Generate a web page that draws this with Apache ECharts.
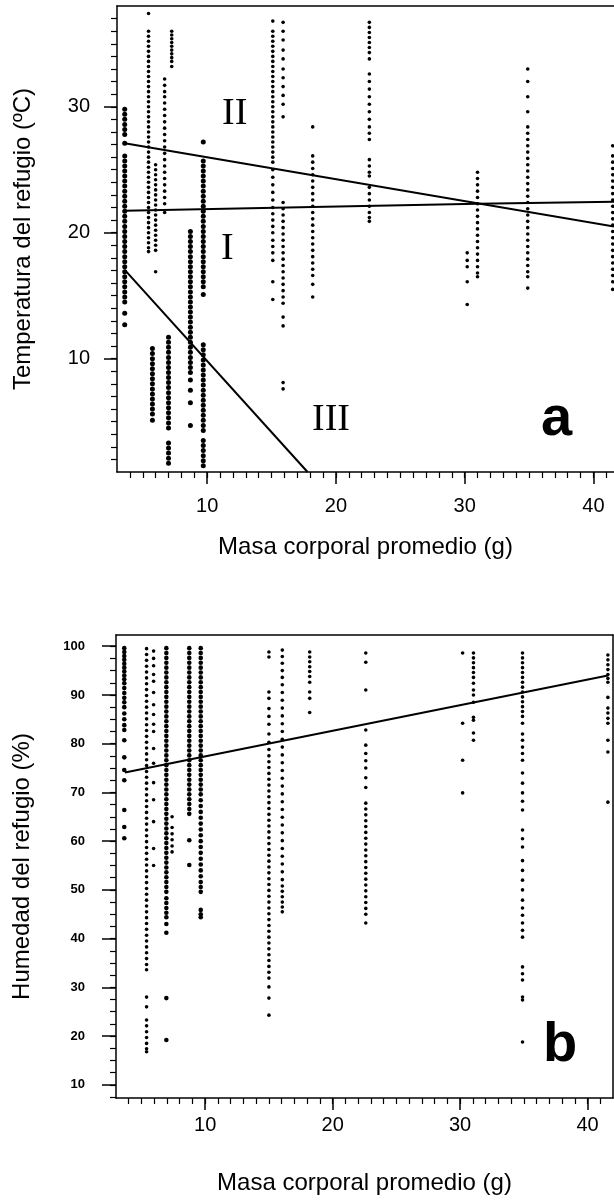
<!DOCTYPE html>
<html><head><meta charset="utf-8">
<script src="https://cdn.jsdelivr.net/npm/echarts@6/dist/echarts.min.js"></script>
<style>html,body{margin:0;padding:0;background:#fff}#c{width:614px;height:1200px}</style>
</head><body><div id="c"></div>
<script>
// ---------- Panel a: Temperatura del refugio vs masa corporal ----------
const tempMajorX = [10, 20, 30, 40];
const tempMajorY = [10, 20, 30];
// columns drawn with large dots
const tempLargeX = [3.6, 5.75, 7.0, 8.7, 9.7];
const tempLargeY = [
  [29.8, 29.4, 29.0, 28.6, 28.2, 27.8, 27.1, 26.1, 25.7, 25.3, 24.9, 24.5, 24.1, 23.7, 23.3, 22.9, 22.5, 22.1, 21.7, 21.3, 20.9, 20.5, 20.1, 19.7, 19.3, 18.9, 18.5, 18.1, 17.7, 17.3, 16.9, 16.5, 16.1, 15.7, 15.3, 14.9, 14.5, 13.6, 12.7],
  [10.8, 10.4, 10.0, 9.6, 9.2, 8.8, 8.4, 8.0, 7.6, 7.2, 6.8, 6.4, 6.0, 5.6, 5.1],
  [11.7, 11.3, 10.9, 10.5, 10.1, 9.7, 9.3, 8.9, 8.5, 8.1, 7.7, 7.3, 6.9, 6.5, 6.1, 5.7, 5.3, 4.9, 4.5, 3.3, 2.9, 2.5, 2.1, 1.7],
  [20.1, 19.7, 19.3, 18.9, 18.5, 18.1, 17.7, 17.3, 16.9, 16.5, 16.1, 15.7, 15.3, 14.9, 14.5, 14.1, 13.7, 13.3, 12.9, 12.5, 12.1, 11.7, 11.3, 10.9, 10.5, 10.1, 9.7, 9.3, 8.9, 8.3, 7.5, 6.5, 4.7],
  [27.2, 25.7, 25.3, 24.9, 24.5, 24.1, 23.7, 23.3, 22.9, 22.5, 22.1, 21.7, 21.3, 20.9, 20.5, 20.1, 19.7, 19.3, 18.9, 18.5, 18.1, 17.7, 17.3, 16.9, 16.5, 16.1, 15.7, 15.1,
   11.1, 10.7, 10.3, 9.9, 9.5, 9.1, 8.7, 8.3, 7.9, 7.5, 7.1, 6.7, 6.3, 5.9, 5.5, 5.1, 4.7, 4.3, 3.5, 3.1, 2.7, 2.3, 1.9, 1.5]
];
// columns drawn with small dots
const tempSmallX = [5.45, 6.0, 6.7, 7.25, 15.1, 15.9, 18.2, 22.6, 30.2, 31.0, 34.9, 41.5];
const tempSmallY = [
  [37.4, 36.0, 35.6, 35.2, 34.8, 34.4, 34.0, 33.6, 33.2, 32.8, 32.4, 32.0, 31.6, 31.2, 30.8, 30.4, 30.0, 29.6, 29.2, 28.8, 28.4, 28.0, 27.6, 27.2, 26.8, 26.4, 26.0, 25.6, 25.2, 24.8, 24.4, 24.0, 23.6, 23.2, 22.8, 22.4, 22.0, 21.6, 21.2, 20.8, 20.4, 20.0, 19.6, 19.2, 18.8, 18.5],
  [25.4, 25.0, 24.6, 24.2, 23.8, 23.4, 23.0, 22.6, 22.2, 21.8, 21.4, 21.0, 20.6, 20.2, 19.8, 19.4, 19.0, 18.6, 16.9],
  [32.2, 31.7, 31.2, 30.8, 30.3, 29.8, 29.3, 28.8, 28.3, 27.8, 27.3, 26.8, 26.3, 25.8, 25.3, 24.8, 24.3, 23.8, 23.3, 22.8, 22.3, 21.6],
  [36.0, 35.7, 35.4, 35.1, 34.8, 34.5, 34.2, 33.9, 33.6, 33.2],
  [36.8, 36.0, 35.6, 35.2, 34.8, 34.4, 34.0, 33.6, 33.2, 32.8, 32.4, 32.0, 31.6, 31.2, 30.8, 30.4, 30.0, 29.6, 29.2, 28.8, 28.4, 28.0, 27.6, 27.2, 26.8, 26.4, 26.0, 25.6, 25.0, 24.4, 23.8, 23.2, 22.6, 22.0, 21.5, 21.0, 20.5, 20.0, 19.4, 18.9, 18.4, 17.8, 16.1, 14.7],
  [36.7, 36.0, 35.3, 34.5, 33.8, 33.0, 32.3, 31.6, 30.9, 30.2, 29.2, 22.4, 21.9, 21.4, 20.9, 20.4, 19.9, 19.4, 18.9, 18.4, 17.9, 17.4, 16.9, 16.4, 15.9, 15.4, 14.9, 14.4, 13.3, 12.6, 8.1, 7.6],
  [28.4, 26.1, 25.6, 25.1, 24.6, 24.1, 23.6, 23.1, 22.6, 22.1, 21.6, 21.1, 20.6, 20.1, 19.6, 19.1, 18.6, 18.1, 17.6, 17.1, 16.6, 15.9, 14.9],
  [36.7, 36.3, 35.9, 35.5, 35.1, 34.7, 34.3, 33.8, 32.6, 32.0, 31.4, 30.8, 30.2, 29.6, 29.0, 28.4, 27.9, 27.4, 25.8, 25.3, 24.8, 24.5, 23.6, 23.1, 22.6, 22.1, 21.6, 21.2, 20.9],
  [18.4, 17.8, 17.3, 16.1, 14.3],
  [24.8, 24.3, 23.8, 23.3, 22.8, 22.3, 21.8, 21.3, 20.8, 20.3, 19.8, 19.3, 18.8, 18.3, 17.8, 17.3, 16.8, 16.5],
  [33.0, 32.0, 30.8, 29.6, 28.4, 27.9, 27.4, 26.9, 26.4, 25.9, 25.4, 24.9, 24.4, 23.9, 23.4, 22.9, 22.4, 21.9, 21.4, 20.9, 20.4, 19.9, 19.4, 18.9, 18.4, 17.9, 17.4, 16.9, 16.5, 15.6],
  [26.9, 26.1, 25.6, 25.1, 24.6, 24.1, 23.6, 23.1, 22.6, 22.1, 21.6, 21.1, 20.6, 20.1, 19.6, 19.1, 18.6, 18.1, 17.6, 17.1, 16.6, 16.1, 15.5]
];
// regression lines
const lineIX = [3.6, 18.2, 31.0, 41.6];
const lineIY = [21.75, 22.05, 22.3, 22.45];
const lineIIX = [3.6, 41.6];
const lineIIY = [27.1, 20.5];
const lineIIIX = [3.6, 17.8];
const lineIIIY = [17.05, 1.0];

// ---------- Panel b: Humedad del refugio vs masa corporal ----------
const humMajorX = [10, 20, 30, 40];
const humMajorY = [10, 20, 30, 40, 50, 60, 70, 80, 90, 100];
const humLargeX = [3.65, 6.95, 8.75, 9.65];
const humLargeY = [
  [99.6, 98.8, 98.0, 97.2, 96.4, 95.6, 94.8, 94.0, 93.2, 92.4, 91.4, 90.4, 89.4, 88.5, 87.5, 86.2, 85.0, 83.8, 82.8, 80.7, 77.2, 74.6, 72.5, 66.4, 62.9, 60.6],
  [99.6, 98.6, 97.6, 96.6, 95.6, 94.6, 93.6, 92.6, 91.6, 90.6, 89.6, 88.6, 87.6, 86.6, 85.6, 84.6, 83.6, 82.6, 81.6, 80.6, 79.6, 78.6, 77.6, 76.6, 75.6, 74.6, 73.6, 72.6, 71.6, 70.6, 69.6, 68.6, 67.6, 66.6, 65.6, 64.6, 63.6, 62.6, 61.6, 60.6, 59.6, 58.6, 57.6, 56.6, 55.6, 54.6, 53.6, 52.6, 51.6, 50.6, 49.6, 48.3, 47.3, 46.3, 45.3, 44.4, 43.0, 41.2, 27.8, 19.2],
  [99.6, 98.6, 97.6, 96.6, 95.6, 94.6, 93.6, 92.6, 91.6, 90.6, 89.6, 88.6, 87.6, 86.6, 85.6, 84.6, 83.6, 82.6, 81.6, 80.6, 79.6, 78.6, 77.6, 76.6, 75.6, 74.6, 73.6, 72.6, 71.6, 70.6, 69.6, 68.6, 67.6, 66.6, 65.6, 60.2, 55.1],
  [99.6, 98.6, 97.6, 96.6, 95.6, 94.6, 93.6, 92.6, 91.6, 90.6, 89.6, 88.6, 87.6, 86.6, 85.6, 84.6, 83.6, 82.6, 81.6, 80.6, 79.6, 78.6, 77.6, 76.6, 75.6, 74.6, 73.6, 72.6, 71.6, 70.6, 69.6, 68.4, 67.2, 66.0, 64.8, 63.6, 62.4, 61.2, 60.0, 58.8, 57.6, 56.4, 55.2, 54.0, 52.8, 51.6, 50.6, 49.6, 45.9, 45.0, 44.4]
];
const humSmallX = [5.4, 5.95, 7.4, 15.0, 16.05, 18.2, 22.6, 30.2, 31.05, 34.9, 41.6];
const humSmallY = [
  [99.5, 98.3, 97.1, 95.9, 94.7, 93.5, 92.3, 91.1, 89.9, 88.7, 87.5, 86.3, 85.1, 83.9, 82.7, 81.5, 80.3, 79.1, 77.9, 76.7, 75.5, 74.3, 73.1, 71.9, 70.7, 69.5, 68.3, 67.1, 65.9, 64.7, 63.5, 62.3, 61.1, 59.9, 58.7, 57.5, 56.3, 55.1, 53.9, 52.7, 51.5, 50.3, 49.1, 47.9, 46.7, 45.5, 44.3, 43.1, 41.9, 40.7, 39.5, 38.3, 37.1, 35.9, 34.7, 33.6, 28.0, 26.0, 23.3, 22.1, 20.9, 19.7, 18.5, 17.4, 16.8],
  [99.0, 97.5, 96.0, 94.2, 92.8, 90.5, 88.0, 86.0, 84.0, 82.5, 79.0, 76.0, 72.0, 68.5, 64.0, 58.5, 55.0],
  [65.0, 62.8, 61.5, 60.3, 59.0, 57.8],
  [98.8, 97.8, 90.6, 89.3, 87.2, 85.6, 84.0, 82.0, 80.3, 78.8, 77.5, 76.3, 75.1, 73.9, 72.7, 71.5, 70.3, 69.1, 67.9, 66.7, 65.5, 64.3, 63.1, 61.9, 60.7, 59.5, 58.3, 57.1, 55.9, 54.7, 53.5, 52.3, 51.1, 49.9, 48.7, 47.5, 46.3, 45.1, 43.9, 42.7, 41.5, 40.3, 39.1, 37.9, 36.7, 35.5, 34.3, 33.1, 31.9, 30.1, 27.8, 24.3],
  [99.2, 97.9, 96.5, 95.0, 93.6, 92.1, 90.5, 88.9, 87.3, 85.7, 84.1, 82.5, 80.9, 79.3, 77.7, 76.1, 74.5, 72.9, 71.3, 69.7, 68.1, 66.5, 64.9, 63.3, 61.7, 60.1, 58.5, 56.9, 55.3, 53.7, 52.1, 50.8, 49.7, 48.6, 47.5, 46.5, 45.5],
  [98.8, 97.8, 96.8, 95.8, 94.8, 93.8, 92.6, 90.6, 89.3, 86.4],
  [98.6, 96.7, 91.0, 82.8, 79.7, 78.0, 76.5, 75.0, 73.0, 71.0, 67.8, 66.6, 65.4, 64.2, 63.0, 61.8, 60.6, 59.4, 58.2, 57.0, 55.8, 54.6, 53.4, 52.2, 51.0, 49.8, 48.6, 47.4, 46.2, 45.0, 43.2],
  [98.6, 84.2, 76.6, 69.9],
  [98.6, 97.6, 96.6, 95.6, 94.6, 93.6, 92.4, 91.0, 90.0, 88.5, 85.4, 84.8, 82.2, 80.7],
  [98.6, 97.6, 96.6, 95.6, 94.6, 93.6, 92.6, 91.6, 90.6, 89.6, 88.6, 87.6, 86.6, 85.6, 84.2, 82.0, 80.7, 79.3, 78.0, 76.6, 74.0, 71.9, 69.9, 68.2, 66.4, 62.3, 60.5, 58.8, 56.0, 54.0, 52.0, 50.0, 47.9, 46.3, 44.8, 43.2, 41.7, 40.3, 34.2, 32.8, 31.5, 28.0, 27.4, 18.8],
  [98.2, 97.2, 96.2, 95.2, 94.2, 93.4, 92.6, 89.5, 87.3, 86.3, 85.2, 84.2, 80.7, 78.3, 68.0]
];
const humLineX = [3.7, 41.6];
const humLineY = [74.1, 94.0];

// ---------- build ----------
function cols(xs, ys) { const out = []; xs.forEach((x, i) => ys[i].forEach(y => out.push([x, y]))); return out; }
function pairs(xs, ys) { return xs.map((x, i) => [x, ys[i]]); }
function range(a, b, s) { const r = []; for (let v = a; v <= b + 1e-9; v += s) r.push(+v.toFixed(2)); return r; }

const FONT = 'Liberation Sans';
const black = '#000';
const axisLine = { show: true, onZero: false, lineStyle: { color: black, width: 1.5 } };
const noLine = { show: false, onZero: false };
const dot = { color: black, opacity: 1 };

const chart = echarts.init(document.getElementById('c'), null, { renderer: 'canvas' });
const aX = { min: 3, max: 41.6 }, aY = { min: 1, max: 38 };
const bX = { min: 3, max: 42 }, bY = { min: 7.3, max: 102.3 };

const option = {
  backgroundColor: '#fff',
  animation: false,
  grid: [
    { left: 117, top: 6, width: 497, height: 466, containLabel: false, outerBoundsMode: 'none' },
    { left: 116, top: 635, width: 497, height: 463, containLabel: false, outerBoundsMode: 'none' }
  ],
  xAxis: [
    { gridIndex: 0, type: 'value', position: 'bottom', ...aX, axisLine,
      axisTick: { show: true, customValues: tempMajorX, length: 12, lineStyle: { color: black, width: 1.5 } },
      axisLabel: { show: true, customValues: tempMajorX, color: black, fontFamily: FONT, fontSize: 20, margin: 24 },
      splitLine: { show: false },
      name: 'Masa corporal promedio (g)', nameLocation: 'middle', nameGap: 63,
      nameTextStyle: { color: black, fontFamily: FONT, fontSize: 24 } },
    { gridIndex: 0, type: 'value', position: 'bottom', ...aX, axisLine: noLine,
      axisTick: { show: true, customValues: range(4, 41, 1), length: 6, lineStyle: { color: black, width: 1.2 } },
      axisLabel: { show: false }, splitLine: { show: false } },
    { gridIndex: 0, type: 'value', position: 'top', ...aX, axisLine,
      axisTick: { show: false }, axisLabel: { show: false }, splitLine: { show: false } },
    { gridIndex: 1, type: 'value', position: 'bottom', ...bX, axisLine,
      axisTick: { show: true, customValues: humMajorX, length: 12, lineStyle: { color: black, width: 1.5 } },
      axisLabel: { show: true, customValues: humMajorX, color: black, fontFamily: FONT, fontSize: 20, margin: 17 },
      splitLine: { show: false },
      name: 'Masa corporal promedio (g)', nameLocation: 'middle', nameGap: 73,
      nameTextStyle: { color: black, fontFamily: FONT, fontSize: 24 } },
    { gridIndex: 1, type: 'value', position: 'bottom', ...bX, axisLine: noLine,
      axisTick: { show: true, customValues: range(4, 41, 1), length: 6, lineStyle: { color: black, width: 1.2 } },
      axisLabel: { show: false }, splitLine: { show: false } },
    { gridIndex: 1, type: 'value', position: 'top', ...bX, axisLine,
      axisTick: { show: false }, axisLabel: { show: false }, splitLine: { show: false } }
  ],
  yAxis: [
    { gridIndex: 0, type: 'value', position: 'left', ...aY, axisLine,
      axisTick: { show: true, customValues: tempMajorY, length: 13, lineStyle: { color: black, width: 1.5 } },
      axisLabel: { show: true, customValues: tempMajorY, color: black, fontFamily: FONT, fontSize: 20, margin: 27 },
      splitLine: { show: false },
      name: 'Temperatura del refugio (ºC)', nameLocation: 'middle', nameGap: 82,
      nameTextStyle: { color: black, fontFamily: FONT, fontSize: 24 } },
    { gridIndex: 0, type: 'value', position: 'left', ...aY, axisLine: noLine,
      axisTick: { show: true, customValues: range(2, 37, 1), length: 6, lineStyle: { color: black, width: 1.2 } },
      axisLabel: { show: false }, splitLine: { show: false } },
    { gridIndex: 1, type: 'value', position: 'left', ...bY, axisLine,
      axisTick: { show: true, customValues: humMajorY, length: 14, lineStyle: { color: black, width: 1.5 } },
      axisLabel: { show: true, customValues: humMajorY, color: black, fontFamily: FONT, fontSize: 13, fontWeight: 'bold', margin: 31 },
      splitLine: { show: false },
      name: 'Humedad del refugio (%)', nameLocation: 'middle', nameGap: 82,
      nameTextStyle: { color: black, fontFamily: FONT, fontSize: 24 } },
    { gridIndex: 1, type: 'value', position: 'left', ...bY, axisLine: noLine,
      axisTick: { show: true, customValues: range(7.5, 102.5, 2.5).filter(v => v <= 102.3), length: 6, lineStyle: { color: black, width: 1.2 } },
      axisLabel: { show: false }, splitLine: { show: false } },
    { gridIndex: 1, type: 'value', position: 'right', ...bY, axisLine,
      axisTick: { show: false }, axisLabel: { show: false }, splitLine: { show: false } }
  ],
  series: [
    { type: 'scatter', xAxisIndex: 0, yAxisIndex: 0, data: cols(tempLargeX, tempLargeY), symbolSize: 5, itemStyle: dot },
    { type: 'scatter', xAxisIndex: 0, yAxisIndex: 0, data: cols(tempSmallX, tempSmallY), symbolSize: 3.6, itemStyle: dot },
    { type: 'line', xAxisIndex: 0, yAxisIndex: 0, data: pairs(lineIX, lineIY), symbol: 'none', lineStyle: { color: black, width: 2 }, z: 5 },
    { type: 'line', xAxisIndex: 0, yAxisIndex: 0, data: pairs(lineIIX, lineIIY), symbol: 'none', lineStyle: { color: black, width: 2 }, z: 5 },
    { type: 'line', xAxisIndex: 0, yAxisIndex: 0, data: pairs(lineIIIX, lineIIIY), symbol: 'none', lineStyle: { color: black, width: 2 }, z: 5 },
    { type: 'scatter', xAxisIndex: 3, yAxisIndex: 2, data: cols(humLargeX, humLargeY), symbolSize: 4.6, itemStyle: dot },
    { type: 'scatter', xAxisIndex: 3, yAxisIndex: 2, data: cols(humSmallX, humSmallY), symbolSize: 3.6, itemStyle: dot },
    { type: 'line', xAxisIndex: 3, yAxisIndex: 2, data: pairs(humLineX, humLineY), symbol: 'none', lineStyle: { color: black, width: 2 }, z: 5 }
  ],
  graphic: [
    { type: 'text', left: 222, top: 95, style: { text: 'II', fill: black, font: '38px "Liberation Serif"' } },
    { type: 'text', left: 221, top: 230, style: { text: 'I', fill: black, font: '38px "Liberation Serif"' } },
    { type: 'text', left: 312, top: 401, style: { text: 'III', fill: black, font: '38px "Liberation Serif"' } },
    { type: 'text', left: 541, top: 392, style: { text: 'a', fill: black, font: 'bold 56px "Liberation Sans"' } },
    { type: 'text', left: 543, top: 1018, style: { text: 'b', fill: black, font: 'bold 56px "Liberation Sans"' } }
  ]
};
chart.setOption(option);
</script></body></html>
